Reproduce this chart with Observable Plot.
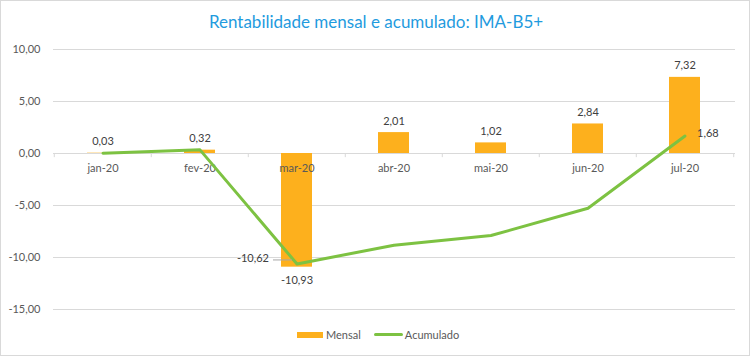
<!DOCTYPE html>
<html><head><meta charset="utf-8">
<script src="https://cdn.jsdelivr.net/npm/d3@7"></script>
<script src="https://cdn.jsdelivr.net/npm/@observablehq/plot@0.6"></script>
<style>
body{margin:0;background:#fff;font-family:Lato,sans-serif;}
#wrap{position:relative;width:750px;height:356px;box-sizing:border-box;border:1px solid #d9d9d9;overflow:hidden;}
#title{position:absolute;top:10px;left:0;width:750px;text-align:center;font-size:17px;color:#1f9bde;}
#legend{position:absolute;top:327px;left:296px;font-size:11px;color:#595959;display:flex;align-items:center;}
#chart{position:absolute;top:-1px;left:-1px;width:750px;}
#chart svg{max-width:none;}
</style></head>
<body>
<div id="wrap">
<div id="chart"></div>
<div id="title">Rentabilidade mensal e acumulado: IMA-B5+</div>
<div id="legend">
<span style="display:inline-block;width:26px;height:6px;background:#fdb01d;margin-right:3px"></span>Mensal
<span style="display:inline-block;width:29px;height:3px;background:#7dc242;margin-left:13px;margin-right:2px;border-radius:2px"></span>Acumulado
</div>
</div>
<script>
const months = ["jan-20","fev-20","mar-20","abr-20","mai-20","jun-20","jul-20"];
const mensal = [0.03, 0.32, -10.93, 2.01, 1.02, 2.84, 7.32];
const acumulado = [0.03, 0.35, -10.62, -8.82, -7.89, -5.27, 1.68];
const yTicks = [-15, -10, -5, 0, 5, 10];

const fmt = v => v.toFixed(2).replace(".", ",");
const data = months.map((m, i) => ({m, mensal: mensal[i], acum: acumulado[i]}));

const W = 750, H = 356, ml = 53, mr = 15;
const step = (W - ml - mr) / months.length;

const plot = Plot.plot({
  width: W, height: H,
  marginLeft: ml, marginRight: mr, marginTop: 49, marginBottom: 47,
  style: {fontFamily: "Lato, sans-serif", fontSize: "11px", color: "#595959", background: "transparent"},
  x: {domain: months, paddingInner: 0.68, paddingOuter: 0.34, axis: null},
  y: {domain: [-15, 10], ticks: yTicks, tickFormat: fmt},
  marks: [
    Plot.gridY(yTicks, {stroke: "#d9d9d9", strokeOpacity: 1}),
    Plot.axisY(yTicks, {tickSize: 0, tickPadding: 13, tickFormat: fmt, fill: "#595959", fontSize: 11}),
    Plot.barY(data, {x: "m", y: "mensal", fill: "#fdb01d"}),
    Plot.ruleX(months, {x: d => d, dx: -step / 2, y1: 0, y2: -0.4, stroke: "#d9d9d9"}),
    Plot.ruleX([months[months.length - 1]], {x: d => d, dx: step / 2, y1: 0, y2: -0.4, stroke: "#d9d9d9"}),
    Plot.text(data, {x: "m", y: 0, text: "m", dy: 15, fill: "#595959", fontSize: 11}),
    Plot.line(data, {x: "m", y: "acum", stroke: "#7dc242", strokeWidth: 3}),
    Plot.text(data, {x: "m", y: "mensal", text: d => fmt(d.mensal), fill: "#404040", fontSize: 11,
      filter: d => d.mensal >= 0, lineAnchor: "bottom", dy: -8}),
    Plot.text(data, {x: "m", y: "mensal", text: d => fmt(d.mensal), fill: "#404040", fontSize: 11,
      filter: d => d.mensal < 0, lineAnchor: "top", dy: 9}),
    Plot.tickY(data, {x: "m", y: "acum", filter: d => d.m === "mar-20", dx: -14, dy: -4, stroke: "#a6a6a6", strokeWidth: 1, inset: 6}),
    Plot.text(data, {x: "m", y: "acum", text: d => fmt(d.acum), fill: "#404040", fontSize: 11,
      filter: d => d.m === "mar-20", textAnchor: "end", dx: -28, dy: -5}),
    Plot.text(data, {x: "m", y: "acum", text: d => fmt(d.acum), fill: "#404040", fontSize: 11,
      filter: d => d.m === "jul-20", textAnchor: "start", dx: 12, dy: -3})
  ]
});
document.getElementById("chart").appendChild(plot);
</script>
</body></html>
